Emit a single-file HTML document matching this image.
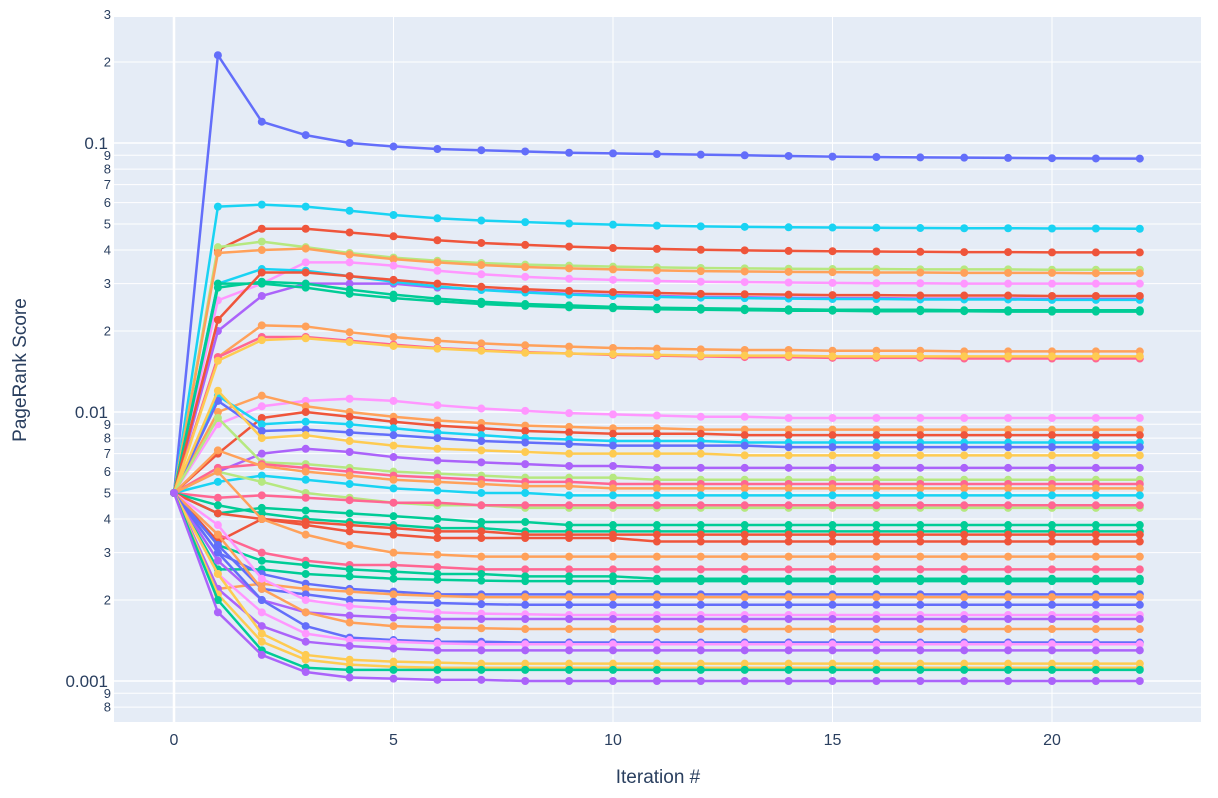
<!DOCTYPE html>
<html><head><meta charset="utf-8">
<style>
body{margin:0;background:#fff;font-family:"Liberation Sans",sans-serif;}
svg text{font-family:"Liberation Sans",sans-serif;fill:#2a3f5f;}
</style></head>
<body>
<svg id="chart" width="1218" height="793" xmlns="http://www.w3.org/2000/svg">
<rect x="114" y="17" width="1087" height="705" fill="#e5ecf6"/>
<g id="grid"></g>
<g id="series"></g>
<g id="ticks"></g>
<text x="658" y="783" font-size="19" text-anchor="middle">Iteration #</text>
<text transform="translate(26,370) rotate(-90)" font-size="19" text-anchor="middle">PageRank Score</text>
</svg>
<script>
const xTicks=[0,5,10,15,20];
const yMajor=[0.1,0.01,0.001];
const yMinor=[0.3,0.2,0.09,0.08,0.07,0.06,0.05,0.04,0.03,0.02,0.009,0.008,0.007,0.006,0.005,0.004,0.003,0.002,0.0009,0.0008];
const yMinorLabels=["3","2","9","8","7","6","5","4","3","2","9","8","7","6","5","4","3","2","9","8"];
const iterations=[0,1,2,3,4,5,6,7,8,9,10,11,12,13,14,15,16,17,18,19,20,21,22];
const seriesColors=["#636efa","#19d3f3","#EF553B","#B6E880","#FFA15A","#FF97FF","#ab63fa","#19d3f3","#00cc96","#00cc96","#EF553B","#FFA15A","#FF6692","#FECB52",
"#FF97FF","#FFA15A","#EF553B","#19d3f3","#636efa","#FECB52","#ab63fa","#B6E880","#FF6692","#FFA15A","#19d3f3","#B6E880","#FF6692","#00cc96","#00cc96","#EF553B","#EF553B","#FFA15A","#FF6692","#00cc96","#00cc96","#636efa","#FFA15A","#636efa","#FF97FF","#ab63fa","#FFA15A","#636efa","#FF97FF","#ab63fa","#FECB52","#FECB52","#00cc96","#ab63fa"];
// values in units of 0.001
const seriesValues=[
[5,212,120,107,100,97,95,94,93,92,91.5,91,90.5,90,89.5,89,88.7,88.4,88.2,88,87.8,87.6,87.5],
[5,58,59,58,56,54,52.5,51.5,50.8,50.2,49.7,49.3,49,48.8,48.6,48.5,48.4,48.3,48.2,48.2,48.1,48.1,48],
[5,40,48,48,46.5,45,43.5,42.5,41.8,41.2,40.7,40.4,40.1,39.9,39.7,39.6,39.5,39.4,39.3,39.3,39.2,39.2,39.2],
[5,41,43,41,39,37.5,36.5,35.8,35.3,35,34.7,34.5,34.3,34.2,34.1,34,34,33.9,33.9,33.9,33.8,33.8,33.8],
[5,39,40,40.5,38.5,37,36,35.2,34.6,34.2,33.9,33.6,33.4,33.3,33.2,33.1,33,33,32.9,32.9,32.9,32.8,32.8],
[5,26,30,36,36,35,33.5,32.5,31.8,31.3,31,30.7,30.5,30.4,30.3,30.2,30.1,30.1,30,30,30,30,30],
[5,20,27,30,30,30,29,28.5,28,27.5,27.2,27,26.8,26.7,26.6,26.5,26.5,26.4,26.4,26.4,26.3,26.3,26.3],
[5,30,34,33.5,32,30.5,29.3,28.4,27.8,27.3,27,26.8,26.6,26.5,26.4,26.3,26.3,26.2,26.2,26.2,26.1,26.1,26.1],
[5,30,30,29,27.5,26.5,25.8,25.2,24.8,24.5,24.3,24.1,24,23.9,23.8,23.8,23.7,23.7,23.7,23.6,23.6,23.6,23.6],
[5,29,30.5,30,28.5,27.3,26.4,25.7,25.2,24.9,24.6,24.4,24.3,24.2,24.1,24,24,24,23.9,23.9,23.9,23.9,23.9],
[5,22,33,33,32,31,30,29.2,28.6,28.2,27.9,27.7,27.5,27.4,27.3,27.2,27.2,27.1,27.1,27.1,27,27,27],
[5,16,21,20.8,19.8,19,18.4,18,17.7,17.5,17.3,17.2,17.1,17,17,16.9,16.9,16.9,16.8,16.8,16.8,16.8,16.8],
[5,16,19,19,18.4,17.8,17.3,17,16.7,16.5,16.3,16.2,16.1,16,16,15.9,15.9,15.9,15.8,15.8,15.8,15.8,15.8],
[5,15.5,18.5,18.8,18.2,17.6,17.2,16.9,16.6,16.5,16.4,16.3,16.2,16.2,16.2,16.1,16.1,16.1,16.1,16.1,16.1,16.1,16.1],
[5,9,10.5,11,11.2,11,10.6,10.3,10.1,9.9,9.8,9.7,9.6,9.6,9.5,9.5,9.5,9.5,9.5,9.5,9.5,9.5,9.5],
[5,10,11.5,10.5,10,9.6,9.3,9.1,8.9,8.8,8.7,8.7,8.6,8.6,8.6,8.6,8.6,8.6,8.6,8.6,8.6,8.6,8.6],
[5,7,9.5,10,9.6,9.2,8.9,8.7,8.5,8.4,8.3,8.3,8.3,8.2,8.2,8.2,8.2,8.2,8.2,8.2,8.2,8.2,8.2],
[5,11.5,9,9.2,9,8.7,8.4,8.2,8,7.9,7.8,7.8,7.8,7.7,7.7,7.7,7.7,7.7,7.7,7.7,7.7,7.7,7.7],
[5,11,8.5,8.6,8.4,8.2,8,7.8,7.7,7.6,7.5,7.5,7.5,7.5,7.4,7.4,7.4,7.4,7.4,7.4,7.4,7.4,7.4],
[5,12,8,8.2,7.8,7.5,7.3,7.2,7.1,7,7,7,7,6.9,6.9,6.9,6.9,6.9,6.9,6.9,6.9,6.9,6.9],
[5,6,7,7.3,7.1,6.8,6.6,6.5,6.4,6.3,6.3,6.2,6.2,6.2,6.2,6.2,6.2,6.2,6.2,6.2,6.2,6.2,6.2],
[5,9.5,6.5,6.4,6.2,6,5.9,5.8,5.7,5.7,5.7,5.6,5.6,5.6,5.6,5.6,5.6,5.6,5.6,5.6,5.6,5.6,5.6],
[5,6.2,6.4,6.2,6,5.8,5.7,5.6,5.5,5.5,5.4,5.4,5.4,5.4,5.4,5.4,5.4,5.4,5.4,5.4,5.4,5.4,5.4],
[5,7.2,6.3,6,5.8,5.6,5.5,5.4,5.3,5.3,5.2,5.2,5.2,5.2,5.2,5.2,5.2,5.2,5.2,5.2,5.2,5.2,5.2],
[5,5.5,5.8,5.6,5.4,5.2,5.1,5,5,4.9,4.9,4.9,4.9,4.9,4.9,4.9,4.9,4.9,4.9,4.9,4.9,4.9,4.9],
[5,6,5.5,5,4.8,4.6,4.5,4.5,4.4,4.4,4.4,4.4,4.4,4.4,4.4,4.4,4.4,4.4,4.4,4.4,4.4,4.4,4.4],
[5,4.8,4.9,4.8,4.7,4.6,4.6,4.5,4.5,4.5,4.5,4.5,4.5,4.5,4.5,4.5,4.5,4.5,4.5,4.5,4.5,4.5,4.5],
[5,4.2,4.4,4.3,4.2,4.1,4,3.9,3.9,3.8,3.8,3.8,3.8,3.8,3.8,3.8,3.8,3.8,3.8,3.8,3.8,3.8,3.8],
[5,4.5,4.2,4,3.9,3.8,3.7,3.7,3.6,3.6,3.6,3.6,3.6,3.6,3.6,3.6,3.6,3.6,3.6,3.6,3.6,3.6,3.6],
[5,4.2,4,3.9,3.8,3.7,3.6,3.6,3.5,3.5,3.5,3.5,3.5,3.5,3.5,3.5,3.5,3.5,3.5,3.5,3.5,3.5,3.5],
[5,3.3,4,3.8,3.6,3.5,3.4,3.4,3.4,3.4,3.4,3.3,3.3,3.3,3.3,3.3,3.3,3.3,3.3,3.3,3.3,3.3,3.3],
[5,6,4,3.5,3.2,3,2.95,2.9,2.9,2.9,2.9,2.9,2.9,2.9,2.9,2.9,2.9,2.9,2.9,2.9,2.9,2.9,2.9],
[5,3.5,3,2.8,2.7,2.7,2.65,2.6,2.6,2.6,2.6,2.6,2.6,2.6,2.6,2.6,2.6,2.6,2.6,2.6,2.6,2.6,2.6],
[5,3.2,2.8,2.7,2.6,2.55,2.5,2.5,2.45,2.45,2.45,2.4,2.4,2.4,2.4,2.4,2.4,2.4,2.4,2.4,2.4,2.4,2.4],
[5,2.6,2.6,2.5,2.45,2.4,2.38,2.36,2.35,2.35,2.35,2.35,2.35,2.35,2.35,2.35,2.35,2.35,2.35,2.35,2.35,2.35,2.35],
[5,3,2.5,2.3,2.2,2.15,2.1,2.1,2.1,2.1,2.1,2.1,2.1,2.1,2.1,2.1,2.1,2.1,2.1,2.1,2.1,2.1,2.1],
[5,2.2,2.3,2.2,2.15,2.1,2.07,2.05,2.05,2.05,2.05,2.05,2.05,2.05,2.05,2.05,2.05,2.05,2.05,2.05,2.05,2.05,2.05],
[5,3.2,2.2,2.1,2,1.97,1.95,1.93,1.92,1.92,1.92,1.92,1.92,1.92,1.92,1.92,1.92,1.92,1.92,1.92,1.92,1.92,1.92],
[5,3.8,2.4,2,1.9,1.85,1.8,1.78,1.77,1.76,1.76,1.76,1.76,1.76,1.76,1.76,1.76,1.76,1.76,1.76,1.76,1.76,1.76],
[5,2.8,2,1.8,1.75,1.72,1.7,1.7,1.7,1.7,1.7,1.7,1.7,1.7,1.7,1.7,1.7,1.7,1.7,1.7,1.7,1.7,1.7],
[5,3.5,2.2,1.8,1.65,1.6,1.58,1.57,1.56,1.56,1.56,1.56,1.56,1.56,1.56,1.56,1.56,1.56,1.56,1.56,1.56,1.56,1.56],
[5,3,2,1.6,1.45,1.42,1.4,1.4,1.39,1.39,1.39,1.39,1.39,1.39,1.39,1.39,1.39,1.39,1.39,1.39,1.39,1.39,1.39],
[5,2.5,1.8,1.5,1.42,1.4,1.38,1.37,1.37,1.37,1.37,1.37,1.37,1.37,1.37,1.37,1.37,1.37,1.37,1.37,1.37,1.37,1.37],
[5,2.2,1.6,1.4,1.35,1.32,1.3,1.3,1.3,1.3,1.3,1.3,1.3,1.3,1.3,1.3,1.3,1.3,1.3,1.3,1.3,1.3,1.3],
[5,2.5,1.5,1.25,1.2,1.18,1.17,1.16,1.16,1.16,1.16,1.16,1.16,1.16,1.16,1.16,1.16,1.16,1.16,1.16,1.16,1.16,1.16],
[5,2.1,1.4,1.2,1.15,1.13,1.12,1.12,1.12,1.12,1.12,1.12,1.12,1.12,1.12,1.12,1.12,1.12,1.12,1.12,1.12,1.12,1.12],
[5,2,1.3,1.12,1.1,1.1,1.1,1.1,1.1,1.1,1.1,1.1,1.1,1.1,1.1,1.1,1.1,1.1,1.1,1.1,1.1,1.1,1.1],
[5,1.8,1.25,1.08,1.03,1.02,1.01,1.01,1.0,1.0,1.0,1.0,1.0,1.0,1.0,1.0,1.0,1.0,1.0,1.0,1.0,1.0,1.0]
];
const NS="http://www.w3.org/2000/svg";
const X0=174, XS=43.9, Y1=143, YD=269;
function xScale(v){return X0+v*XS;}
function yScale(v){return Y1-YD*(Math.log10(v)+1);}
const grid=document.getElementById('grid'), ticks=document.getElementById('ticks'), ser=document.getElementById('series');
function mk(tag,attrs,parent){const e=document.createElementNS(NS,tag);for(const k in attrs)e.setAttribute(k,attrs[k]);parent.appendChild(e);return e;}
xTicks.forEach(t=>{
  const l=mk('line',{x1:xScale(t),x2:xScale(t),y1:17,y2:722,stroke:'#fff','stroke-width':t===0?2.5:1},grid);
  
  
  const tx=mk('text',{x:xScale(t),y:745,'font-size':16,'text-anchor':'middle'},ticks);
  tx.textContent=t;
  
  
});
yMajor.forEach(t=>{
  const l=mk('line',{x1:114,x2:1201,y1:yScale(t),y2:yScale(t),stroke:'#fff','stroke-width':1.5},grid);
  
  
  const tx=mk('text',{x:108,y:yScale(t)+6,'font-size':17,'text-anchor':'end'},ticks);
  tx.textContent=String(t);
  
  
});
yMinor.forEach((t,i)=>{
  const l=mk('line',{x1:114,x2:1201,y1:yScale(t),y2:yScale(t),stroke:'#fff','stroke-width':1},grid);
  
  
  const tx=mk('text',{x:111,y:yScale(t)+4.5,'font-size':13,'text-anchor':'end'},ticks);
  tx.textContent=yMinorLabels[i];
  
  
});
seriesValues.forEach((vals,si)=>{
  const c=seriesColors[si%seriesColors.length];
  const g=mk('g',{},ser);
  
  
  const pts=vals.map((v,i)=>xScale(iterations[i])+','+yScale(v/1000)).join(' ');
  const pl=mk('polyline',{points:pts,fill:'none',stroke:c,'stroke-width':2.5,'stroke-linejoin':'round'},g);
  
  
  vals.forEach((v,i)=>{
    const m=mk('circle',{cx:xScale(iterations[i]),cy:yScale(v/1000),r:4,fill:c},g);
    
    
  });
});
</script>
</body></html>
